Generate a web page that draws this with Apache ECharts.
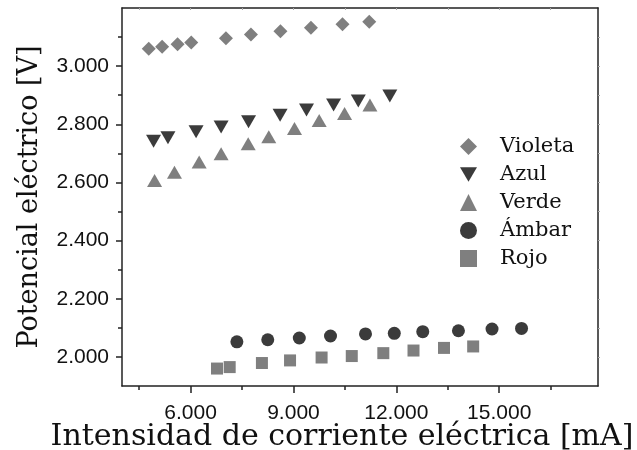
<!DOCTYPE html>
<html>
<head>
<meta charset="utf-8">
<script src="https://cdn.jsdelivr.net/npm/echarts@6/dist/echarts.min.js"></script>
<style>
  html, body { margin: 0; padding: 0; background: #fff; }
  #chart { width: 637px; height: 450px; }
</style>
</head>
<body>
<div id="chart"></div>
<script>
// Current (mA) and voltage (mV) measurements for five LEDs
const seriesNames = ['Violeta', 'Azul', 'Verde', 'Ámbar', 'Rojo'];

const violetaI = [4780, 5170, 5620, 6020, 7030, 7760, 8620, 9510, 10430, 11210];
const violetaV = [3060, 3067, 3075, 3081, 3096, 3109, 3120, 3132, 3144, 3153];

const azulI = [4920, 5340, 6160, 6890, 7690, 8610, 9380, 10170, 10890, 11810];
const azulV = [2742, 2754, 2774, 2791, 2809, 2831, 2849, 2866, 2880, 2897];

const verdeI = [4950, 5530, 6250, 6890, 7680, 8280, 9030, 9750, 10490, 11230];
const verdeV = [2607, 2635, 2670, 2699, 2733, 2757, 2786, 2813, 2837, 2866];

const ambarI = [7350, 8250, 9170, 10080, 11100, 11940, 12770, 13810, 14790, 15650];
const ambarV = [2052, 2059, 2065, 2072, 2079, 2081, 2087, 2090, 2096, 2098];

const rojoI = [6770, 7140, 8080, 8900, 9820, 10700, 11620, 12500, 13390, 14240];
const rojoV = [1960, 1965, 1979, 1988, 1998, 2003, 2013, 2022, 2031, 2036];

// Axis ticks
const xMajorTicks = [6000, 9000, 12000, 15000];
const xMinorTicks = [4500, 7500, 10500, 13500, 16500];
const yMajorTicks = [2000, 2200, 2400, 2600, 2800, 3000];
const yMinorTicks = [2100, 2300, 2500, 2700, 2900, 3100];

const X_MIN = 4000, X_MAX = 17880;
const Y_MIN = 1900, Y_MAX = 3200;

const pairs = (xs, ys) => xs.map((x, i) => [x, ys[i]]);
const fmt = v => (v / 1000).toFixed(3);

const LIGHT = '#7f7f7f';
const DARK = '#3b3b3b';
const AXIS = '#222';
const DOWN_TRIANGLE = 'path://M0,0L10,0L5,8.66Z';

const chart = echarts.init(document.getElementById('chart'), null, { renderer: 'canvas' });

chart.setOption({
  animation: false,
  backgroundColor: '#fff',
  grid: { left: 122, right: 39, top: 8, bottom: 64, containLabel: false, outerBoundsMode: 'none' },
  legend: {
    orient: 'vertical',
    left: 455,
    top: 131,
    itemWidth: 17,
    itemHeight: 17,
    itemGap: 7,
    data: [
      { name: 'Violeta' },
      { name: 'Azul', icon: DOWN_TRIANGLE },
      { name: 'Verde' },
      { name: 'Ámbar' },
      { name: 'Rojo' }
    ],
    textStyle: { fontFamily: 'DejaVu Serif', fontSize: 21, color: '#111', lineHeight: 21, padding: [0, 0, 0, 18] }
  },
  xAxis: [
    {
      type: 'value', position: 'bottom', min: X_MIN, max: X_MAX,
      splitLine: { show: false },
      axisLine: { show: true, lineStyle: { color: AXIS, width: 1.5 } },
      axisTick: { show: true, customValues: xMajorTicks, length: 7, lineStyle: { color: AXIS, width: 1.5 } },
      axisLabel: { customValues: xMajorTicks, formatter: fmt, margin: 17,
        fontFamily: 'Liberation Sans', fontSize: 21, color: '#111' },
      name: 'Intensidad de corriente eléctrica [mA]',
      nameLocation: 'middle', nameGap: 36, nameMoveOverlap: false,
      nameTextStyle: { fontFamily: 'DejaVu Serif', fontSize: 30, color: '#111', padding: [0, 36, 0, 0] }
    },
    {
      type: 'value', position: 'bottom', min: X_MIN, max: X_MAX,
      splitLine: { show: false },
      axisLine: { show: false },
      axisTick: { show: true, customValues: xMinorTicks, length: 4, lineStyle: { color: AXIS, width: 1.5 } },
      axisLabel: { show: false }
    },
    {
      type: 'value', position: 'top', min: X_MIN, max: X_MAX,
      splitLine: { show: false },
      axisLine: { show: true, lineStyle: { color: AXIS, width: 1.5 } },
      axisTick: { show: true, inside: true, customValues: xMajorTicks.concat(xMinorTicks), length: 2, lineStyle: { color: '#aaa', width: 1 } },
      axisLabel: { show: false }
    }
  ],
  yAxis: [
    {
      type: 'value', position: 'left', min: Y_MIN, max: Y_MAX,
      splitLine: { show: false },
      axisLine: { show: true, lineStyle: { color: AXIS, width: 1.5 } },
      axisTick: { show: true, customValues: yMajorTicks, length: 6, lineStyle: { color: AXIS, width: 1.5 } },
      axisLabel: { customValues: yMajorTicks, formatter: fmt, margin: 13,
        fontFamily: 'Liberation Sans', fontSize: 21, color: '#111' },
      name: 'Potencial eléctrico [V]',
      nameLocation: 'middle', nameGap: 79, nameMoveOverlap: false,
      nameTextStyle: { fontFamily: 'DejaVu Serif', fontSize: 27, color: '#111' }
    },
    {
      type: 'value', position: 'left', min: Y_MIN, max: Y_MAX,
      splitLine: { show: false },
      axisLine: { show: false },
      axisTick: { show: true, customValues: yMinorTicks, length: 4, lineStyle: { color: AXIS, width: 1.5 } },
      axisLabel: { show: false }
    },
    {
      type: 'value', position: 'right', min: Y_MIN, max: Y_MAX,
      splitLine: { show: false },
      axisLine: { show: true, lineStyle: { color: AXIS, width: 1.5 } },
      axisTick: { show: true, customValues: yMajorTicks.concat(yMinorTicks), length: 2, lineStyle: { color: '#aaa', width: 1 } },
      axisLabel: { show: false }
    }
  ],
  series: [
    { name: 'Violeta', type: 'scatter', symbol: 'diamond', symbolSize: 14,
      itemStyle: { color: LIGHT, opacity: 1 }, data: pairs(violetaI, violetaV) },
    { name: 'Azul', type: 'scatter', symbol: DOWN_TRIANGLE, symbolSize: [15, 13],
      itemStyle: { color: DARK, opacity: 1 }, data: pairs(azulI, azulV) },
    { name: 'Verde', type: 'scatter', symbol: 'triangle', symbolSize: [15, 13],
      itemStyle: { color: LIGHT, opacity: 1 }, data: pairs(verdeI, verdeV) },
    { name: 'Ámbar', type: 'scatter', symbol: 'circle', symbolSize: 13,
      itemStyle: { color: DARK, opacity: 1 }, data: pairs(ambarI, ambarV) },
    { name: 'Rojo', type: 'scatter', symbol: 'rect', symbolSize: 12,
      itemStyle: { color: LIGHT, opacity: 1 }, data: pairs(rojoI, rojoV) }
  ]
});
</script>
</body>
</html>
